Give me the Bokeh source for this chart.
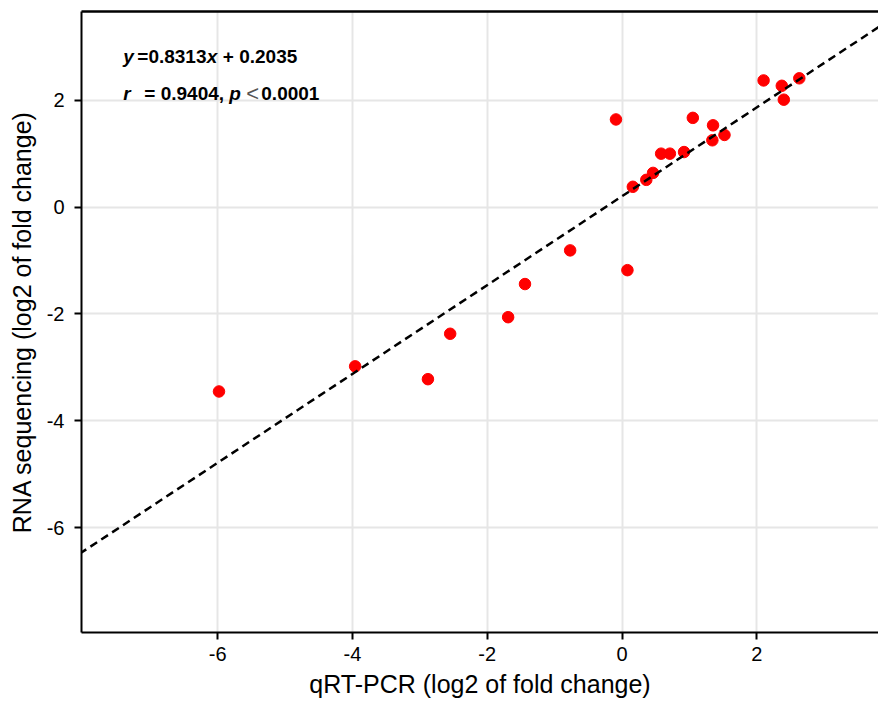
from bokeh.plotting import figure
from bokeh.models import Range1d, FixedTicker, LinearAxis, Label, Slope
from bokeh.embed import file_html
from bokeh.resources import INLINE

# data
qpcr = [-5.98, -3.96, -2.88, -2.55, -1.69, -1.44, -0.77, 0.08, -0.09, 0.16, 0.36, 0.46,
        0.58, 0.71, 0.92, 1.05, 1.34, 1.35, 1.52, 2.10, 2.37, 2.40, 2.63]
rnaseq = [-3.45, -2.98, -3.22, -2.37, -2.06, -1.44, -0.81, -1.18, 1.64, 0.38, 0.51, 0.64,
          1.00, 1.00, 1.03, 1.67, 1.25, 1.53, 1.35, 2.37, 2.27, 2.01, 2.41]
slope = 0.8313
intercept = 0.2035
r_value = "0.9404"
p_text = "0.0001"
x_ticks = [-6, -4, -2, 0, 2]
y_ticks = [-6, -4, -2, 0, 2]
x_tick_labels = ["-6", "-4", "-2", "0", "2"]
y_tick_labels = ["-6", "-4", "-2", "0", "2"]

FONT = "Liberation Sans"

p = figure(width=878, height=702, output_backend="svg", toolbar_location=None,
           x_range=Range1d(-8.02, 3.805), y_range=Range1d(-7.96, 3.66),
           min_border_left=81, min_border_right=0, min_border_top=11, min_border_bottom=70)
p.outline_line_color = None
p.background_fill_color = "white"

for ax in (p.xaxis[0], p.yaxis[0]):
    ax.axis_line_width = 2
    ax.axis_line_color = "black"
    ax.major_tick_line_width = 2
    ax.major_tick_line_color = "black"
    ax.major_tick_out = 7
    ax.major_tick_in = 0
    ax.minor_tick_line_color = None
    ax.major_label_text_font = FONT
    ax.major_label_text_font_size = "20px"
    ax.major_label_text_color = "black"
    ax.axis_label_text_font = FONT
    ax.axis_label_text_font_style = "normal"
    ax.axis_label_text_color = "black"

p.xaxis.ticker = FixedTicker(ticks=x_ticks)
p.yaxis.ticker = FixedTicker(ticks=y_ticks)
p.xaxis.major_label_overrides = dict(zip(x_ticks, x_tick_labels))
p.yaxis.major_label_overrides = dict(zip(y_ticks, y_tick_labels))
p.xaxis.axis_label = "qRT-PCR (log2 of fold change)"
p.yaxis.axis_label = "RNA sequencing (log2 of fold change)"
p.xaxis.axis_label_text_font_size = "25px"
p.yaxis.axis_label_text_font_size = "25px"
p.xaxis.major_label_standoff = 7
p.xaxis.axis_label_standoff = 6
p.yaxis.major_label_standoff = 10
p.yaxis.axis_label_standoff = 8

p.xgrid.grid_line_color = "#E6E6E6"
p.ygrid.grid_line_color = "#E6E6E6"
p.xgrid.grid_line_width = 2
p.ygrid.grid_line_width = 2

top = LinearAxis(ticker=FixedTicker(ticks=[]), major_tick_line_color=None,
                 minor_tick_line_color=None, major_tick_out=0, major_tick_in=0,
                 major_label_standoff=0, axis_line_width=2.5, axis_line_color="black")
p.add_layout(top, "above")

p.add_layout(Slope(gradient=slope, y_intercept=intercept, line_color="black",
                   line_width=2.5, line_dash="8 5"))

p.scatter(qpcr, rnaseq, size=11.5, color="#FF0000", line_color="#FF0000")

# annotation text
ax0 = -7.40
y1 = 2.81
y2 = 2.13
def lab(txt, x_off, y, style="bold", color="black", size="19px"):
    p.add_layout(Label(x=ax0, y=y, x_offset=x_off, text=txt, text_font=FONT,
                       text_font_size=size, text_font_style=style, text_color=color,
                       text_baseline="alphabetic", text_align="left"))

lab("y", 0, y1, "bold italic")
lab("=" + str(slope), 14, y1)
lab("x", 83.5, y1, "bold italic")
lab("+ " + str(intercept), 99.5, y1)

lab("r", 0, y2, "bold italic")
lab("= " + r_value + ",", 21, y2)
lab("p", 106, y2, "bold italic")
lab("<", 123, y2, "normal", "#555555", "22px")
lab(p_text, 138, y2)

open("out.html", "w").write(file_html(p, INLINE))
